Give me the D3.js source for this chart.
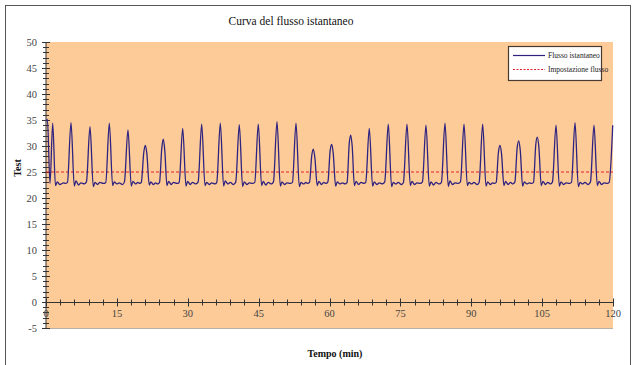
<!DOCTYPE html>
<html><head><meta charset="utf-8">
<script src="https://cdn.jsdelivr.net/npm/d3@7/dist/d3.min.js"></script>
<style>body{margin:0;background:#fff}svg{display:block}text{font-family:"Liberation Serif","Times New Roman",serif}</style>
</head><body>
<svg id="c" width="636" height="365"></svg>
<script>
const chartTitle = "Curva del flusso istantaneo";
const xTitle = "Tempo (min)";
const yTitle = "Test";
const seriesNames = ["Flusso istantaneo", "Impostazione flusso"];
const xTickLabels = [0, 15, 30, 45, 60, 75, 90, 105, 120];
const yTickLabels = [-5, 0, 5, 10, 15, 20, 25, 30, 35, 40, 45, 50];
const setpoint = 25;

const tempo = [
0,0.3,0.85,1.42,2.0,2.4,2.9,3.7,4.1,
4.54,5.29,5.99,6.34,6.89,7.39,8.09,
8.56,9.31,10.01,10.36,10.91,11.41,12.11,
12.65,13.40,14.10,14.45,15.00,15.50,16.20,
16.60,17.35,18.05,18.40,18.95,19.45,19.85,
20.17,20.70,21.02,21.35,21.85,22.2,22.7,23.2,23.6,
24.03,24.50,24.83,25.15,25.60,25.95,26.50,27.00,27.70,
28.18,28.93,29.63,29.98,30.53,31.03,31.73,
32.20,32.95,33.65,34.00,34.55,35.05,35.75,
36.14,36.89,37.59,37.94,38.49,38.99,39.69,
40.16,40.91,41.61,41.96,42.51,43.01,43.71,
44.18,44.93,45.63,45.98,46.53,47.03,47.73,
48.14,48.89,49.59,49.94,50.49,50.99,51.69,
52.16,52.91,53.61,53.96,54.51,55.01,55.37,
55.77,56.25,56.57,56.90,57.40,57.75,58.30,58.80,59.25,
59.66,60.13,60.46,60.79,61.29,61.64,62.19,62.69,63.29,
63.72,64.18,64.49,64.80,65.27,65.62,66.17,66.67,67.27,
67.67,68.42,69.12,69.47,70.02,70.52,71.22,
71.69,72.44,73.14,73.49,74.04,74.54,75.24,
75.65,76.40,77.10,77.45,78.00,78.50,79.20,
79.67,80.42,81.12,81.47,82.02,82.52,83.22,
83.69,84.44,85.14,85.49,86.04,86.54,87.24,
87.72,88.47,89.17,89.52,90.07,90.57,91.27,
91.67,92.42,93.12,93.47,94.02,94.52,94.87,
95.28,95.75,96.08,96.41,96.91,97.26,97.81,98.31,98.81,
99.24,99.71,100.04,100.37,100.87,101.22,101.77,102.27,102.77,
103.18,103.65,103.98,104.31,104.81,105.16,105.71,106.21,106.81,
107.19,107.94,108.64,108.99,109.54,110.04,110.74,
111.21,111.96,112.66,113.01,113.56,114.06,114.76,
115.23,115.98,116.68,117.03,117.58,118.08,118.78,
119.19,119.94
];
const flusso = [
34.8,35.1,22.8,34.4,22.4,23.1,22.6,22.9,22.8,
23.0,34.5,22.3,23.3,22.5,22.9,22.7,
23.1,33.7,22.2,23.0,22.6,23.0,22.8,
23.0,34.4,22.4,23.1,22.7,22.9,22.6,
23.1,33.1,22.3,23.2,22.7,23.0,22.8,
23.0,28.8,30.1,28.5,22.5,23.1,22.6,22.9,22.7,
23.0,29.5,31.3,29.0,22.4,23.2,22.6,23.0,22.8,
23.0,33.4,22.3,23.2,22.6,23.0,22.7,
23.1,34.2,22.4,23.0,22.6,22.9,22.7,
23.0,34.4,22.3,23.3,22.7,23.0,22.6,
23.1,34.1,22.2,23.1,22.6,22.9,22.8,
23.0,34.2,22.4,23.2,22.5,23.0,22.7,
23.1,34.7,22.3,23.1,22.6,22.9,22.8,
23.0,34.4,22.2,23.0,22.7,23.0,22.8,
23.0,28.2,29.4,27.8,22.4,23.2,22.6,23.0,22.8,
23.1,29.0,30.3,28.6,22.3,23.1,22.7,22.9,22.7,
23.0,30.5,32.1,30.0,22.4,23.2,22.6,23.0,22.8,
23.0,33.4,22.3,23.1,22.6,22.9,22.7,
23.1,34.2,22.2,23.0,22.7,23.0,22.6,
23.0,34.2,22.4,23.2,22.6,22.9,22.8,
23.1,34.0,22.3,23.1,22.5,23.0,22.7,
23.0,34.4,22.2,23.3,22.6,22.9,22.8,
23.1,34.2,22.4,23.0,22.7,23.0,22.6,
23.0,34.2,22.3,23.1,22.6,22.9,22.8,
23.0,28.8,30.1,28.5,22.4,23.2,22.6,23.0,22.7,
23.1,29.6,31.0,29.2,22.3,23.1,22.7,22.9,22.8,
23.0,30.2,31.7,29.8,22.4,23.2,22.6,23.0,22.7,
23.1,34.0,22.3,23.1,22.6,22.9,22.8,
23.0,34.5,22.2,23.0,22.7,23.0,22.6,
23.1,34.0,22.4,23.2,22.6,22.9,22.8,
23.0,34.0
];

const svg = d3.select("#c");
const x = d3.scaleLinear().domain([0, 120]).range([46, 613]);
const y = d3.scaleLinear().domain([-5, 50]).range([328, 42]);

// outer frame
svg.append("rect").attr("x", 5.5).attr("y", 5.5).attr("width", 625).attr("height", 380)
  .attr("fill", "none").attr("stroke", "#555").attr("stroke-width", 1);

// plot area
svg.append("rect").attr("x", x(0)).attr("y", y(50)).attr("width", x(120) - x(0)).attr("height", y(-5) - y(50))
  .attr("fill", "#FDCB98");
svg.append("line").attr("x1", x(0)).attr("x2", x(120)).attr("y1", y(-5) + 0.5).attr("y2", y(-5) + 0.5)
  .attr("stroke", "#b9b0a6").attr("stroke-width", 1);

// title
svg.append("text").attr("x", 291).attr("y", 25).attr("text-anchor", "middle")
  .attr("font-size", 11.5).attr("fill", "#111").text(chartTitle);

// axes
const axisColor = "#333";
const gAx = svg.append("g");
gAx.append("line").attr("x1", x(0)).attr("x2", x(0)).attr("y1", y(-5)).attr("y2", y(50)).attr("stroke", axisColor);
const yMinor = d3.range(-5, 51, 1);
gAx.selectAll(".ymin").data(yMinor).join("line")
  .attr("x1", x(0) - 3).attr("x2", x(0) + 3)
  .attr("y1", d => Math.round(y(d)) + 0.5).attr("y2", d => Math.round(y(d)) + 0.5)
  .attr("stroke", axisColor);
gAx.selectAll(".ymaj").data(yTickLabels).join("line")
  .attr("x1", x(0) - 4).attr("x2", x(0) + 4)
  .attr("y1", d => Math.round(y(d)) + 0.5).attr("y2", d => Math.round(y(d)) + 0.5)
  .attr("stroke", axisColor);
gAx.selectAll(".ylab").data(yTickLabels).join("text")
  .attr("x", 37).attr("y", d => y(d) + 3.5).attr("text-anchor", "end")
  .attr("font-size", 10.5).attr("fill", "#444").text(d => d);

const x0 = Math.round(y(0)) + 0.5;
gAx.append("line").attr("x1", x(0)).attr("x2", x(120)).attr("y1", x0).attr("y2", x0).attr("stroke", axisColor);
const xMinor = d3.range(0, 121, 3);
gAx.selectAll(".xmin").data(xMinor).join("line")
  .attr("x1", d => Math.round(x(d)) + 0.5).attr("x2", d => Math.round(x(d)) + 0.5)
  .attr("y1", x0 - 3).attr("y2", x0 + 3).attr("stroke", axisColor);
gAx.selectAll(".xmaj").data(xTickLabels).join("line")
  .attr("x1", d => Math.round(x(d)) + 0.5).attr("x2", d => Math.round(x(d)) + 0.5)
  .attr("y1", x0 - 4).attr("y2", x0 + 4).attr("stroke", axisColor);
gAx.selectAll(".xlab").data(xTickLabels).join("text")
  .attr("x", d => x(d)).attr("y", 317).attr("text-anchor", "middle")
  .attr("font-size", 10.5).attr("fill", "#444").text(d => d);

svg.append("text").attr("transform", "translate(21,168) rotate(-90)").attr("text-anchor", "middle")
  .attr("font-size", 10).attr("font-weight", "bold").attr("fill", "#111").text(yTitle);
svg.append("text").attr("x", 335).attr("y", 357).attr("text-anchor", "middle")
  .attr("font-size", 10).attr("font-weight", "bold").attr("fill", "#111").text(xTitle);

svg.append("line").attr("x1", x(0)).attr("x2", x(120)).attr("y1", y(setpoint)).attr("y2", y(setpoint))
  .attr("stroke", "#e0202a").attr("stroke-width", 1).attr("stroke-dasharray", "3,2");

const pts = tempo.map((t, i) => [t, flusso[i]]);
const line = d3.line().x(d => x(d[0])).y(d => y(d[1])).curve(d3.curveMonotoneX);
svg.append("path").datum(pts).attr("d", line).attr("fill", "none")
  .attr("stroke", "#2e2380").attr("stroke-width", 1.3).attr("stroke-linejoin", "round");

const lg = svg.append("g");
lg.append("rect").attr("x", 508.5).attr("y", 46.5).attr("width", 93).attr("height", 34)
  .attr("fill", "#fff").attr("stroke", "#4a3a30").attr("stroke-width", 1.2);
lg.append("line").attr("x1", 513).attr("x2", 545).attr("y1", 55.5).attr("y2", 55.5)
  .attr("stroke", "#2e2380").attr("stroke-width", 1.2);
lg.append("line").attr("x1", 513).attr("x2", 545).attr("y1", 69.5).attr("y2", 69.5)
  .attr("stroke", "#e0202a").attr("stroke-dasharray", "2,1.5");
lg.append("text").attr("x", 548).attr("y", 58).attr("font-size", 7.5).attr("fill", "#222").text(seriesNames[0]);
lg.append("text").attr("x", 548).attr("y", 72).attr("font-size", 7.5).attr("fill", "#222").text(seriesNames[1]);
</script>
</body></html>
